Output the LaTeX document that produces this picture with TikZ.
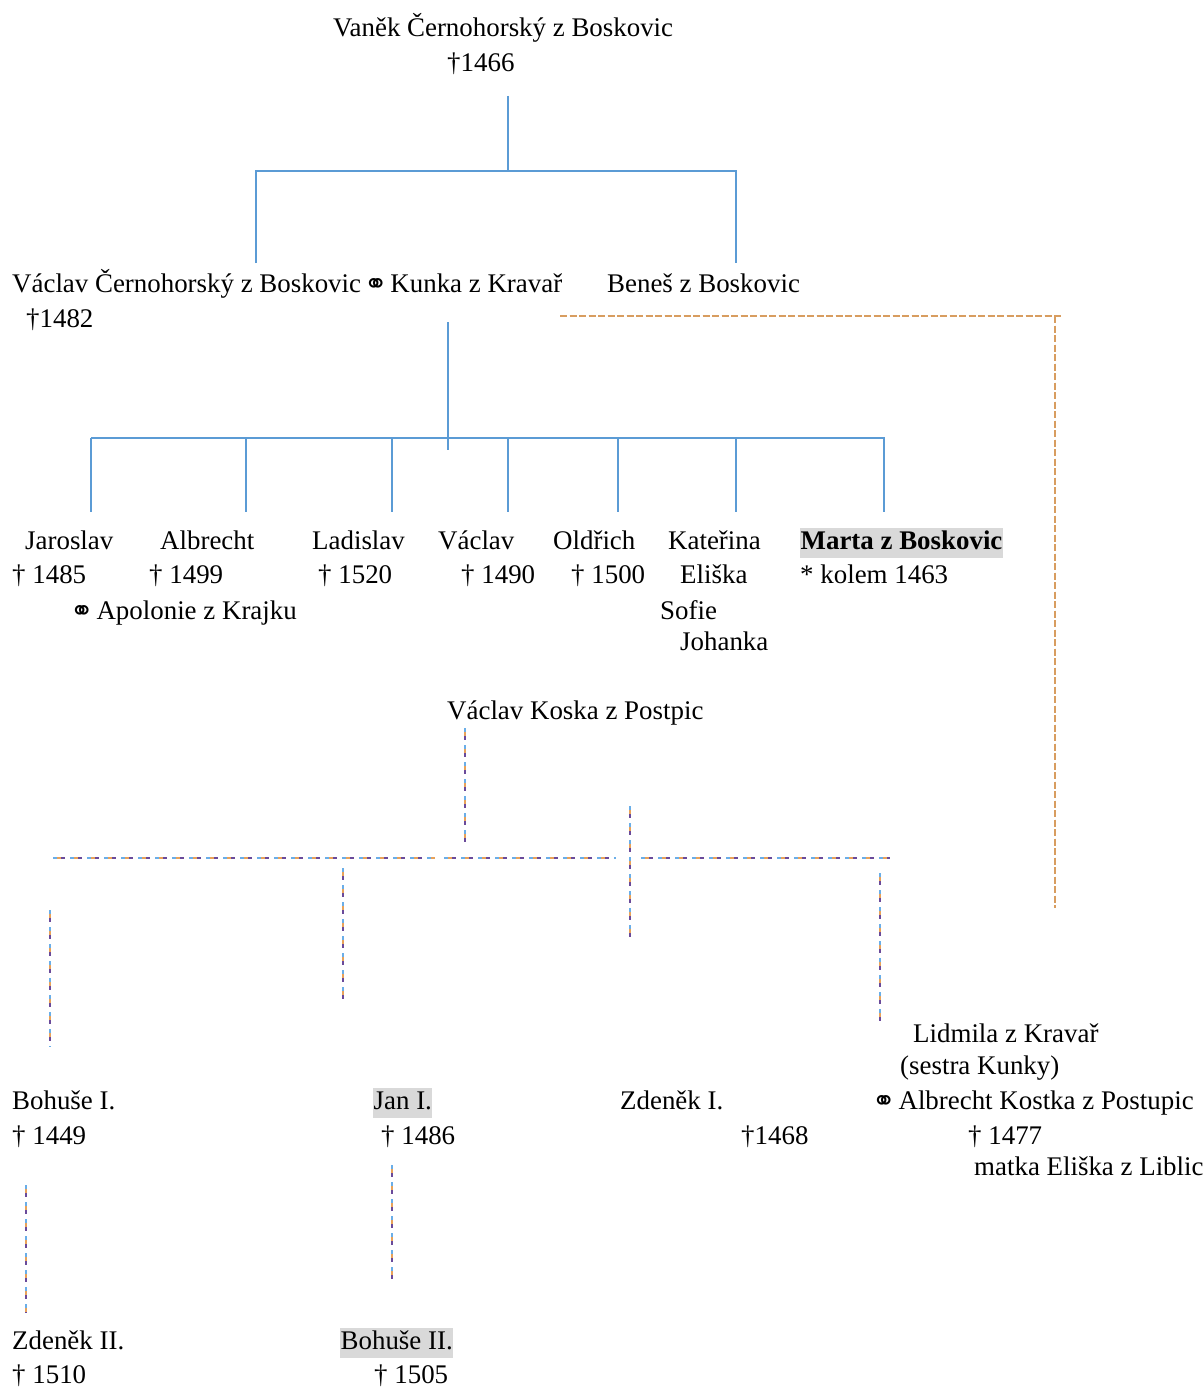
\documentclass[tikz,border=0pt]{standalone}
\usepackage{fontspec}
\setmainfont{Liberation Serif}
\newfontfamily\symfont{DejaVu Sans}
\definecolor{lineblue}{HTML}{5B9BD5}
\definecolor{dorange}{HTML}{E8A25A}
\definecolor{dblue}{HTML}{6AAEE8}
\definecolor{dpurple}{HTML}{6A4A9A}
\definecolor{hlgray}{HTML}{D9D9D9}
\newcommand{\mar}{{\symfont\fontsize{28}{28}\selectfont\raisebox{-1.5bp}{⚭}}}
\begin{document}
\begin{tikzpicture}[x=1bp,y=-1bp,
  every node/.style={font=\fontsize{27}{30}\selectfont, inner sep=0pt, anchor=base west},
  hl/.style={fill=hlgray, inner xsep=0.5bp, inner ysep=3bp, text height=18bp, text depth=6bp},
  solidline/.style={draw=lineblue, line width=1.4bp},
  dashline/.style={draw=dblue, line width=2.4bp, dash pattern=on 7bp off 2.5bp,
     postaction={draw=dorange!85!gray, line width=1.1bp, dash pattern=on 7bp off 2.5bp}},
  kdot/.style={draw=dblue, line width=2bp, dash pattern=on 4bp off 13bp,
     preaction={draw=dorange, line width=2bp, dash pattern=on 4bp off 13bp, dash phase=13bp},
     postaction={draw=dpurple, line width=2bp, dash pattern=on 4bp off 13bp, dash phase=9bp}}]
\useasboundingbox (0,0) rectangle (1203,1387);
% texts
\node (vanek) at (333,37) {Vaněk Černohorský z Boskovic};
\node (vanekd) at (447,72) {†1466};
\node (vaclav) at (12,292) {Václav Černohorský z Boskovic\hspace{3bp}\mar\hspace{3bp}Kunka z Kravař};
\node (vaclavd) at (26,327) {†1482};
\node (benes) at (607,292) {Beneš z Boskovic};
\node (jaroslav) at (25,549) {Jaroslav};
\node (albrecht) at (160,549) {Albrecht};
\node (ladislav) at (312,549) {Ladislav};
\node (vaclavb) at (438,549) {Václav};
\node (oldrich) at (553,549) {Oldřich};
\node (katerina) at (668,549) {Kateřina};
\node[hl] (marta) at (800,549) {\bfseries Marta z Boskovic};
\node (jaroslavd) at (12,583) {† 1485};
\node (albrechtd) at (149,583) {† 1499};
\node (ladislavd) at (318,583) {† 1520};
\node (vaclavbd) at (461,583) {† 1490};
\node (oldrichd) at (571,583) {† 1500};
\node (eliska) at (680,583) {Eliška};
\node (martad) at (800,583) {* kolem 1463};
\node (apolonie) at (70,619) {\mar\hspace{3bp}Apolonie z Krajku};
\node (sofie) at (660,619) {Sofie};
\node (johanka) at (680,650) {Johanka};
\node (koska) at (447,719) {Václav Koska z Postpic};
\node (lidmila) at (913,1042) {Lidmila z Kravař};
\node (sestra) at (900,1074) {(sestra Kunky)};
\node (kostka) at (872,1109) {\mar\hspace{3bp}Albrecht Kostka z Postupic};
\node (kostkad) at (968,1144) {† 1477};
\node (matka) at (974,1175) {matka Eliška z Liblic};
\node (bohusea) at (12,1109) {Bohuše I.};
\node (bohusead) at (12,1144) {† 1449};
\node[hl] (jana) at (373,1109) {Jan I.};
\node (janad) at (381,1144) {† 1486};
\node (zdeneka) at (620,1109) {Zdeněk I.};
\node (zdenekad) at (741,1144) {†1468};
\node (zdenekb) at (12,1349) {Zdeněk II.};
\node (zdenekbd) at (12,1383) {† 1510};
\node[hl] (bohuseb) at (340,1349) {Bohuše II.};
\node (bohusebd) at (374,1383) {† 1505};
% coordinates for connectors
\coordinate (a1) at (508,96); \coordinate (a2) at (508,171);
\coordinate (b1) at (256,263); \coordinate (b2) at (256,171);
\coordinate (b3) at (736,171); \coordinate (b4) at (736,263);
\coordinate (c1) at (448,322); \coordinate (c2) at (448,450);
\coordinate (h1) at (91,438); \coordinate (h2) at (885,438);
\foreach \x/\n in {91/d1,246/d2,392/d3,508/d4,618/d5,736/d6,884/d7}{
  \coordinate (\n t) at (\x,438); \coordinate (\n b) at (\x,512);}
\coordinate (e1) at (560,316); \coordinate (e2) at (1062,316);
\coordinate (e3) at (1055,316); \coordinate (e4) at (1055,908);
\coordinate (f1) at (465,728); \coordinate (f2) at (465,842);
\coordinate (g1) at (53,858); \coordinate (g2) at (435,858);
\coordinate (g3) at (444,858); \coordinate (g4) at (616,858);
\coordinate (g5) at (641,858); \coordinate (g6) at (890,858);
\coordinate (k1) at (630,806); \coordinate (k2) at (630,942);
\coordinate (m1) at (343,868); \coordinate (m2) at (343,1003);
\coordinate (n1) at (50,910); \coordinate (n2) at (50,1047);
\coordinate (p1) at (880,873); \coordinate (p2) at (880,1026);
\coordinate (q1) at (26,1185); \coordinate (q2) at (26,1313);
\coordinate (r1) at (392,1165); \coordinate (r2) at (392,1281);
% connectors
\draw[solidline] (a1) -- (a2);
\draw[solidline] (b1) -- (b2) -- (b3) -- (b4);
\draw[solidline] (c1) -- (c2);
\draw[solidline] (h1) -- (h2);
\foreach \n in {d1,d2,d3,d4,d5,d6,d7}{\draw[solidline] (\n t) -- (\n b);}
\draw[dashline] (e1) -- (e2);
\draw[dashline] (e3) -- (e4);
\draw[kdot] (f1) -- (f2);
\draw[kdot] (g1) -- (g2);
\draw[kdot] (g3) -- (g4);
\draw[kdot] (g5) -- (g6);
\draw[kdot] (k1) -- (k2);
\draw[kdot] (m1) -- (m2);
\draw[kdot] (n1) -- (n2);
\draw[kdot] (p1) -- (p2);
\draw[kdot] (q1) -- (q2);
\draw[kdot] (r1) -- (r2);
\end{tikzpicture}
\end{document}
